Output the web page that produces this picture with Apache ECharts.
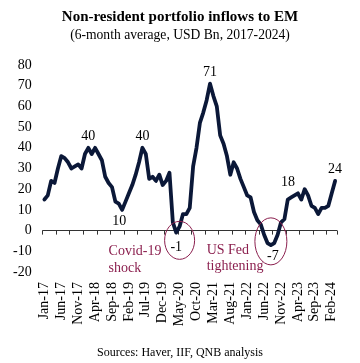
<!DOCTYPE html>
<html>
<head>
<meta charset="utf-8">
<script src="https://cdn.jsdelivr.net/npm/echarts@6/dist/echarts.min.js"></script>
<style>
html,body{margin:0;padding:0;background:#fff;}
#c{width:360px;height:363px;}
</style>
</head>
<body>
<div id="c"></div>
<script>
var months = [
'Jan-17','Feb-17','Mar-17','Apr-17','May-17','Jun-17','Jul-17','Aug-17','Sep-17','Oct-17','Nov-17','Dec-17',
'Jan-18','Feb-18','Mar-18','Apr-18','May-18','Jun-18','Jul-18','Aug-18','Sep-18','Oct-18','Nov-18','Dec-18',
'Jan-19','Feb-19','Mar-19','Apr-19','May-19','Jun-19','Jul-19','Aug-19','Sep-19','Oct-19','Nov-19','Dec-19',
'Jan-20','Feb-20','Mar-20','Apr-20','May-20','Jun-20','Jul-20','Aug-20','Sep-20','Oct-20','Nov-20','Dec-20',
'Jan-21','Feb-21','Mar-21','Apr-21','May-21','Jun-21','Jul-21','Aug-21','Sep-21','Oct-21','Nov-21','Dec-21',
'Jan-22','Feb-22','Mar-22','Apr-22','May-22','Jun-22','Jul-22','Aug-22','Sep-22','Oct-22','Nov-22','Dec-22',
'Jan-23','Feb-23','Mar-23','Apr-23','May-23','Jun-23','Jul-23','Aug-23','Sep-23','Oct-23','Nov-23','Dec-23',
'Jan-24','Feb-24','Mar-24'
];
var inflows = [
15,17,24,23,30,36,35,33,30,31,32,30,
37,40,37,40,37,34,26,23,21,14,13,10,
14,18,22,27,33,40,37,25,26,24,27,22,
24,28,4,-1,2,8,8,11,31,40,52,57,
63,71,65,60,46,42,36,27,33,30,25,21,
17,16,9,5,3,-2,-6,-7,-6,-2,4,5.5,
15,16,17,18,15,20,17,12,11,8,11,11,
12,18,24
];
// labelled points: [index, text, position, offsetX, offsetY]
var pointLabels = [
[13,'40','top',0,0],
[29,'40','top',0,0],
[23,'10','bottom',-3,0],
[39,'-1','bottom',0,3],
[49,'71','top',0,0],
[75,'18','top',-10,0],
[86,'24','top',0,0],
[67,'-7','bottom',2,0]
];
var yTicks = {min:-20, max:80, interval:10};
// annotations in data coordinates
var ellipses = [[39.6,-4.7,15,19],[67.0,-5.2,16,23.5]];
var notes = [[19.1,-9.9,'Covid-19'],[19.1,-18.0,'shock'],[48.4,-9.4,'US Fed'],[48.4,-17.2,'tightening']];

var serif = '"Liberation Serif","Times New Roman",serif';
var noteColor = '#8B1F4E';
var lineColor = '#0B1838';

var seriesData = inflows.map(function(v,i){
  var d = {value:v};
  pointLabels.forEach(function(p){
    if(p[0]===i){
      d.label = {show:true, formatter:p[1], position:p[2], offset:[p[3],p[4]]};
    }
  });
  return d;
});

var chart = echarts.init(document.getElementById('c'), null, {renderer:'canvas'});
var option = {
  animation:false,
  backgroundColor:'#fff',
  title:[
    {text:'Non-resident portfolio inflows to EM', left:'center', top:5,
     textStyle:{fontFamily:serif, fontWeight:'bold', fontSize:15, color:'#000'}},
    {text:'(6-month average, USD Bn, 2017-2024)', left:'center', top:23,
     textStyle:{fontFamily:serif, fontWeight:'normal', fontSize:13.6, color:'#000'}},
    {text:'Sources: Haver, IIF, QNB analysis', left:'center', top:342,
     textStyle:{fontFamily:serif, fontWeight:'normal', fontSize:12, color:'#000'}}
  ],
  grid:{left:42.7, right:23.2, top:65, bottom:91, containLabel:false},
  xAxis:[
    {type:'category', data:months, boundaryGap:true, position:'bottom',
     axisLine:{show:true, onZero:true, lineStyle:{color:'#333', width:1}},
     axisTick:{show:true, interval:3, length:4, lineStyle:{color:'#333'}},
     axisLabel:{show:false}, splitLine:{show:false}},
    {type:'category', data:months, boundaryGap:true, position:'bottom',
     axisLine:{show:false, onZero:false}, axisTick:{show:false},
     axisLabel:{show:true, interval:4, rotate:90, margin:10, fontFamily:serif, fontSize:14, color:'#000'},
     splitLine:{show:false}}
  ],
  yAxis:{type:'value', min:yTicks.min, max:yTicks.max, interval:yTicks.interval,
    axisLine:{show:false}, axisTick:{show:false}, splitLine:{show:false},
    axisLabel:{margin:11, fontFamily:serif, fontSize:14, color:'#000'}},
  series:[{
    type:'line', xAxisIndex:0, yAxisIndex:0, data:seriesData,
    symbol:'circle', symbolSize:1, showAllSymbol:true,
    itemStyle:{color:lineColor},
    lineStyle:{color:lineColor, width:3.8, join:'round', cap:'round'},
    label:{show:false, fontFamily:serif, fontSize:14, color:'#000', distance:4},
    z:3
  }]
};
chart.setOption(option);

var g = [];
ellipses.forEach(function(e){
  var p = chart.convertToPixel({xAxisIndex:0, yAxisIndex:0}, [e[0], e[1]]);
  g.push({type:'ellipse', shape:{cx:p[0], cy:p[1], rx:e[2], ry:e[3]},
    style:{fill:'none', stroke:noteColor, lineWidth:1}, z:10});
});
notes.forEach(function(n){
  var p = chart.convertToPixel({xAxisIndex:0, yAxisIndex:0}, [n[0], n[1]]);
  g.push({type:'text', x:p[0], y:p[1],
    style:{text:n[2], fill:noteColor, font:'14px ' + serif, textAlign:'left', textVerticalAlign:'middle'}, z:10});
});
chart.setOption({graphic:g});
</script>
</body>
</html>
